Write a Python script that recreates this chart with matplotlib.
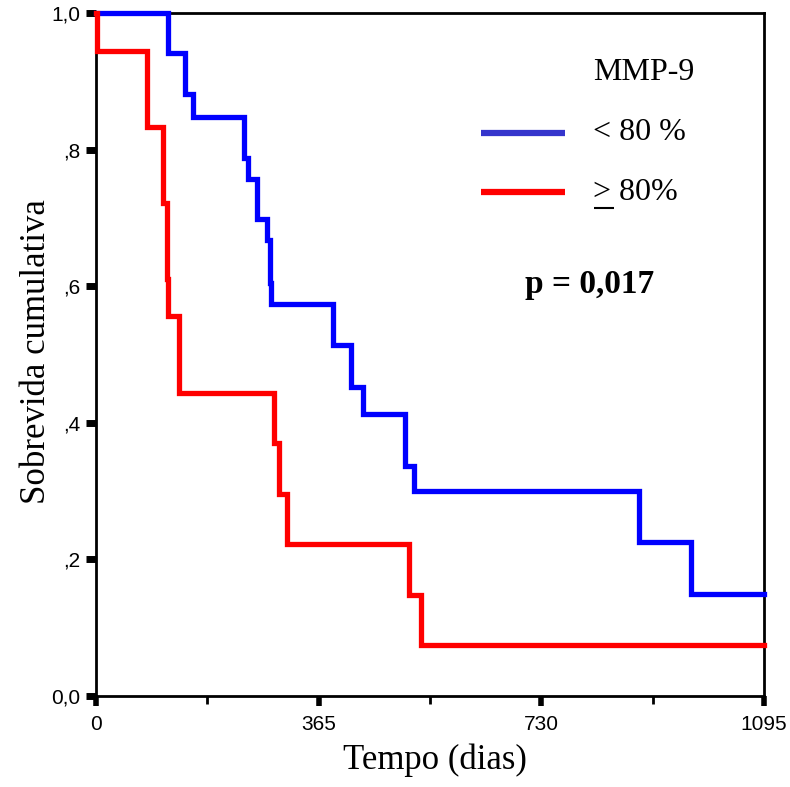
import matplotlib
matplotlib.use("Agg")
import matplotlib.pyplot as plt
from matplotlib.ticker import FixedLocator, FixedFormatter

# Kaplan-Meier curves (days, cumulative survival)
Days_Low = [0, 118, 146, 159, 243, 249, 264, 280, 285, 287, 388, 418, 438, 506, 521, 890, 975, 1095]
Surv_Low = [1.0, 0.941, 0.882, 0.848, 0.788, 0.757, 0.698, 0.668, 0.605, 0.574, 0.514, 0.452, 0.413, 0.337, 0.300, 0.225, 0.149, 0.149]
Days_High = [0, 1, 83, 110, 117, 118, 136, 292, 300, 313, 513, 533, 1095]
Surv_High = [1.0, 0.944, 0.833, 0.722, 0.611, 0.556, 0.444, 0.370, 0.296, 0.222, 0.148, 0.074, 0.074]

Group_Title = "MMP-9"
Group_Labels = ["< 80 %", "> 80%"]
P_Text = "p = 0,017"
X_Ticks = [0, 365, 730, 1095]
X_TickLabels = ["0", "365", "730", "1095"]
X_Minor = [182.5, 547.5, 912.5]
Y_Ticks = [0.0, 0.2, 0.4, 0.6, 0.8, 1.0]
Y_TickLabels = ["0,0", ",2", ",4", ",6", ",8", "1,0"]

plt.rcParams["font.family"] = ["Liberation Sans", "DejaVu Sans"]
serif = ["Liberation Serif", "DejaVu Serif"]

fig = plt.figure(figsize=(7.9, 7.87), dpi=100)
ax = fig.add_axes([96/790, 1 - 696/787, 668/790, 683/787])

ax.step(Days_Low, Surv_Low, where="post", color="#0000ff", lw=3.8, clip_on=False, zorder=3, solid_joinstyle="miter")
ax.step(Days_High, Surv_High, where="post", color="#ff0000", lw=3.8, clip_on=False, zorder=3, solid_joinstyle="miter")

ax.set_xlim(0, 1095)
ax.set_ylim(0, 1.0)

for s in ax.spines.values():
    s.set_linewidth(2)
    s.set_color("black")

ax.xaxis.set_major_locator(FixedLocator(X_Ticks))
ax.xaxis.set_major_formatter(FixedFormatter(X_TickLabels))
ax.xaxis.set_minor_locator(FixedLocator(X_Minor))
ax.yaxis.set_major_locator(FixedLocator(Y_Ticks))
ax.yaxis.set_major_formatter(FixedFormatter(Y_TickLabels))
ax.tick_params(axis="x", which="major", direction="out", length=7, width=4, pad=7, labelsize=15)
ax.tick_params(axis="x", which="minor", direction="out", length=6, width=2)
ax.tick_params(axis="y", which="major", direction="out", length=7, width=5, pad=4, labelsize=15)

ax.set_xlabel("Tempo (dias)", family=serif, fontsize=25)
ax.set_ylabel("Sobrevida cumulativa", family=serif, fontsize=25)
ax.xaxis.set_label_coords(0.507, -0.070)
ax.yaxis.set_label_coords(-0.064, 0.504)

# Legend drawn by hand, like the original
def fx(px):
    return (px - 96) / 668

def fy(py):
    return (696 - py) / 683

ax.text(fx(593), fy(73), Group_Title, transform=ax.transAxes, family=serif, fontsize=23, va="center", ha="left")
ax.plot([fx(481), fx(565)], [fy(133), fy(133)], transform=ax.transAxes, color="#3535cc", lw=4.5, solid_capstyle="butt")
ax.plot([fx(481), fx(565)], [fy(192), fy(192)], transform=ax.transAxes, color="#ff0000", lw=4.5, solid_capstyle="butt")
ax.text(fx(593), fy(133), Group_Labels[0], transform=ax.transAxes, family=serif, fontsize=23, va="center", ha="left")
ax.text(fx(593), fy(192), Group_Labels[1], transform=ax.transAxes, family=serif, fontsize=23, va="center", ha="left")
ax.plot([fx(594), fx(614)], [fy(208), fy(208)], transform=ax.transAxes, color="black", lw=1.5, solid_capstyle="butt")
ax.text(fx(590), fy(285), P_Text, transform=ax.transAxes, family=serif, fontsize=24, weight="bold", va="center", ha="center")

fig.savefig("out.png", dpi=100)
